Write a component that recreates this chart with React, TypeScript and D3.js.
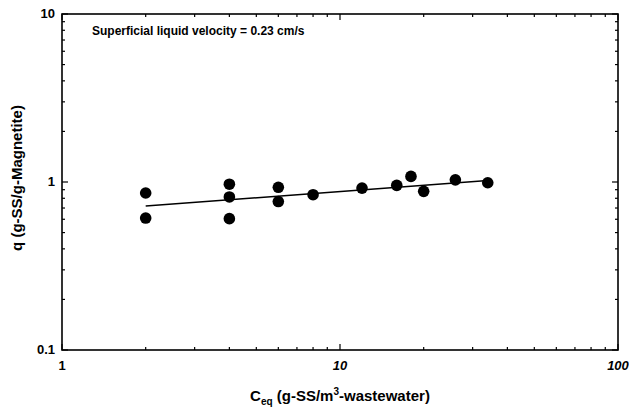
import React from 'react';
import * as d3 from 'd3';

// measured points (C_eq, q)
const ceq = [2, 2, 4, 4, 4, 6, 6, 8, 12, 16, 18, 20, 26, 34];
const qVals = [0.86, 0.61, 0.97, 0.815, 0.605, 0.93, 0.765, 0.84, 0.92, 0.955, 1.08, 0.88, 1.03, 0.99];

// fitted line endpoints
const fitX = [2, 34];
const fitY = [0.72, 1.02];

const xTickLabels = ['1', '10', '100'];
const yTickLabels = ['0.1', '1', '10'];

const W = 629;
const H = 410;
const margin = { top: 14, right: 11, bottom: 60, left: 62 };
const font = 'Liberation Sans, Arial, sans-serif';

export default function App() {
  const x = d3.scaleLog().domain([1, 100]).range([margin.left, W - margin.right]);
  const y = d3.scaleLog().domain([0.1, 10]).range([H - margin.bottom, margin.top]);
  const [x0, x1] = x.range();
  const [y0, y1] = y.range();

  const isMajor = (v: number) => Math.abs(Math.log10(v) - Math.round(Math.log10(v))) < 1e-9;
  const xt = x.ticks();
  const yt = y.ticks();

  const line = d3.line<number>()
    .x((d, i) => x(fitX[i]))
    .y((d) => y(d));

  return (
    <svg width={W} height={H} style={{ position: 'absolute', left: 0, top: 0, background: '#fff' }}>
      <rect x={x0} y={y1} width={x1 - x0} height={y0 - y1} fill="none" stroke="#000" strokeWidth={1.6} />

      {xt.map((v, i) => {
        const len = isMajor(v) ? 6 : 3;
        return (
          <g key={'xt' + i}>
            <line x1={x(v)} x2={x(v)} y1={y0} y2={y0 - len} stroke="#000" strokeWidth={1.2} />
            <line x1={x(v)} x2={x(v)} y1={y1} y2={y1 + len} stroke="#000" strokeWidth={1.2} />
          </g>
        );
      })}
      {yt.map((v, i) => {
        const len = isMajor(v) ? 6 : 3;
        return (
          <g key={'yt' + i}>
            <line x1={x0} x2={x0 + len} y1={y(v)} y2={y(v)} stroke="#000" strokeWidth={1.2} />
            <line x1={x1} x2={x1 - len} y1={y(v)} y2={y(v)} stroke="#000" strokeWidth={1.2} />
          </g>
        );
      })}

      {xTickLabels.map((t) => (
        <text key={'xl' + t} x={x(+t)} y={y0 + 20} textAnchor="middle" fontFamily={font}
          fontWeight="bold" fontStyle={t === '1' ? 'normal' : 'italic'} fontSize={13}>{t}</text>
      ))}
      {yTickLabels.map((t) => (
        <text key={'yl' + t} x={x0 - 7} y={y(+t) + 4} textAnchor="end" fontFamily={font}
          fontWeight="bold" fontSize={13}>{t}</text>
      ))}

      <path d={line(fitY) || ''} fill="none" stroke="#000" strokeWidth={1.5} />

      {ceq.map((c, i) => (
        <circle key={'p' + i} cx={x(c)} cy={y(qVals[i])} r={5.8} fill="#000" />
      ))}

      <text x={92} y={35} fontFamily={font} fontWeight="bold" fontSize={12}>
        Superficial liquid velocity = 0.23 cm/s
      </text>

      <text x={(x0 + x1) / 2} y={401} textAnchor="middle" fontFamily={font} fontWeight="bold" fontSize={15}>
        C<tspan fontSize={10} dy={4}>eq</tspan>
        <tspan dy={-4}> (g-SS/m</tspan>
        <tspan fontSize={10} dy={-6}>3</tspan>
        <tspan dy={6}>-wastewater)</tspan>
      </text>

      <text transform={`translate(22,${(y0 + y1) / 2 - 4}) rotate(-90)`} textAnchor="middle"
        fontFamily={font} fontWeight="bold" fontSize={15}>q (g-SS/g-Magnetite)</text>
    </svg>
  );
}
